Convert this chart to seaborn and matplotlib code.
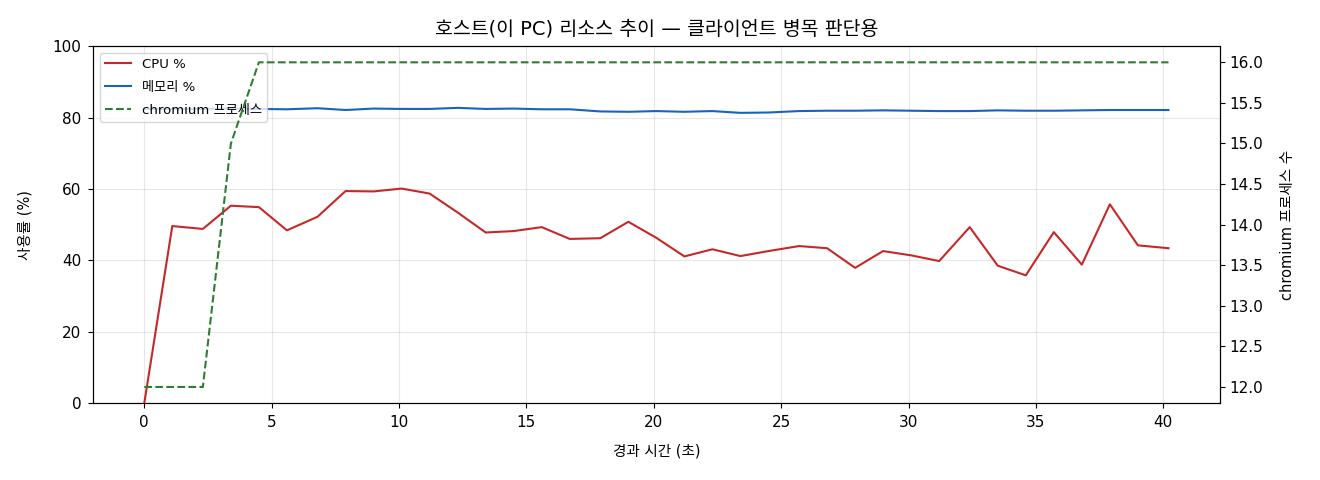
import numpy as np
import pandas as pd
import seaborn as sns
import matplotlib
matplotlib.use("Agg")
import matplotlib.pyplot as plt

# 경과 시간 (초) - 37 samples
elapsed = [0.0, 1.1, 2.3, 3.4, 4.5, 5.6, 6.8, 7.9, 9.0, 10.1, 11.2, 12.3, 13.4,
           14.5, 15.6, 16.7, 17.9, 19.0, 20.1, 21.2, 22.3, 23.4, 24.5, 25.7,
           26.8, 27.9, 29.0, 30.1, 31.2, 32.4, 33.5, 34.6, 35.7, 36.8, 37.9,
           39.0, 40.2]
cpu_pct = [0.0, 49.6, 48.8, 55.3, 54.9, 48.4, 52.2, 59.4, 59.3, 60.1, 58.7,
           53.4, 47.8, 48.2, 49.3, 46.0, 46.2, 50.8, 46.3, 41.1, 43.1, 41.2,
           42.6, 44.0, 43.4, 37.9, 42.6, 41.4, 39.8, 49.3, 38.5, 35.8, 47.9,
           38.8, 55.7, 44.2, 43.4]
mem_pct = [82.4, 82.4, 82.4, 82.5, 82.4, 82.3, 82.6, 82.1, 82.5, 82.4, 82.4,
           82.7, 82.4, 82.5, 82.3, 82.3, 81.7, 81.6, 81.8, 81.6, 81.8, 81.3,
           81.4, 81.8, 81.9, 81.9, 82.0, 81.9, 81.8, 81.8, 82.0, 81.9, 81.9,
           82.0, 82.1, 82.1, 82.1]
chromium_cnt = [12, 12, 12, 15, 16, 16, 16, 16, 16, 16, 16, 16, 16, 16, 16, 16,
                16, 16, 16, 16, 16, 16, 16, 16, 16, 16, 16, 16, 16, 16, 16, 16,
                16, 16, 16, 16, 16]

df = pd.DataFrame({"t": elapsed, "cpu": cpu_pct, "mem": mem_pct, "chrom": chromium_cnt})

# 라틴 문자는 DejaVu, 한글은 Noto CJK KR 로 대체
plt.rcParams["font.family"] = ["DejaVu Sans", "Noto Sans CJK KR"]
plt.rcParams["axes.unicode_minus"] = False

fig, ax = plt.subplots(figsize=(13.2, 4.8), dpi=100)
fig.subplots_adjust(left=0.0705, right=0.924, top=0.904, bottom=0.160)

sns.lineplot(data=df, x="t", y="cpu", ax=ax, color="#c62828", lw=1.5, label="CPU %")
sns.lineplot(data=df, x="t", y="mem", ax=ax, color="#1565c0", lw=1.5, label="메모리 %")
ax.set_ylim(0, 100)
ax.set_xlabel("경과 시간 (초)", fontsize=10.5, labelpad=10)
ax.set_ylabel("사용률 (%)", fontsize=10.5, labelpad=14)
ax.grid(True, alpha=0.3)
ax.tick_params(labelsize=11, pad=5)

ax2 = ax.twinx()
sns.lineplot(data=df, x="t", y="chrom", ax=ax2, color="#2e7d32", lw=1.5,
             linestyle="--", label="chromium 프로세스")
ax2.set_ylabel("chromium 프로세스 수", fontsize=10.5, labelpad=12)
ax2.tick_params(labelsize=11)
ax2.get_legend().remove()

h1, l1 = ax.get_legend_handles_labels()
h2, l2 = ax2.get_legend_handles_labels()
ax.legend(h1 + h2, l1 + l2, loc="upper left", fontsize=9.5, labelspacing=0.75)

ax.set_title("호스트(이 PC) 리소스 추이 — 클라이언트 병목 판단용", fontsize=14, pad=8)

fig.savefig("out.png", dpi=100)
